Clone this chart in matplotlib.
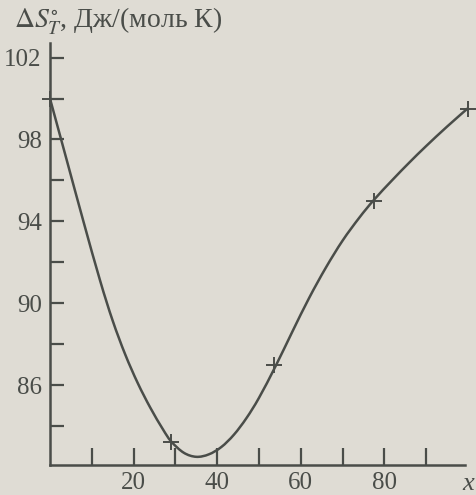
import matplotlib
matplotlib.use('Agg')
import matplotlib.pyplot as plt
from matplotlib.path import Path
from matplotlib.patches import PathPatch

plt.rcParams['font.family'] = ['Liberation Serif', 'DejaVu Serif']
plt.rcParams['mathtext.fontset'] = 'stix'

# measured points (markers)
pts_x = [0, 29, 53.5, 77.5, 100]
pts_y = [100.0, 83.2, 87.0, 95.0, 99.5]

# curve
curve_x = [0, 4, 8, 12, 15, 18, 21, 24, 27, 29, 32, 35, 38, 41, 44, 47, 50,
           54, 58, 62, 66, 70, 74, 77.5, 82, 86, 90, 95, 100]
curve_y = [100.0, 97.0, 94.0, 91.1, 89.15, 87.5, 86.1, 84.9, 83.85, 83.25,
           82.7, 82.5, 82.62, 82.98, 83.58, 84.39, 85.38, 86.94, 88.62,
           90.26, 91.74, 93.06, 94.18, 95.05, 96.04, 96.88, 97.68, 98.63,
           99.53]

x_major = [20, 40, 60, 80]
x_minor = [10, 30, 50, 70, 90]
y_major = [86, 90, 94, 98, 102]
y_minor = [84, 88, 92, 96, 100]

bg = '#dfdcd4'
ink = '#4a4d49'


def smooth_path(xs, ys):
    # Catmull-Rom through the points, drawn as cubic Bezier segments
    verts = [(xs[0], ys[0])]
    codes = [Path.MOVETO]
    n = len(xs)
    for i in range(n - 1):
        x0, y0 = (xs[i - 1], ys[i - 1]) if i > 0 else (xs[i], ys[i])
        x1, y1 = xs[i], ys[i]
        x2, y2 = xs[i + 1], ys[i + 1]
        x3, y3 = (xs[i + 2], ys[i + 2]) if i + 2 < n else (x2, y2)
        c1 = (x1 + (x2 - x0) / 6, y1 + (y2 - y0) / 6)
        c2 = (x2 - (x3 - x1) / 6, y2 - (y3 - y1) / 6)
        verts += [c1, c2, (x2, y2)]
        codes += [Path.CURVE4] * 3
    return Path(verts, codes)


fig = plt.figure(figsize=(4.76, 4.95), dpi=100, facecolor=bg)
ax = fig.add_axes([0.105, 0.0606, 0.872, 0.852], facecolor=bg)

ax.add_patch(PathPatch(smooth_path(curve_x, curve_y), fill=False,
                       edgecolor=ink, lw=1.8, clip_on=False, zorder=3))
ax.plot(pts_x, pts_y, ls='none', marker='+', ms=11, mew=1.4, color=ink,
        clip_on=False, zorder=4)

ax.set_xlim(0, 99.3)
ax.set_ylim(82.1, 102.7)

for s in ['top', 'right']:
    ax.spines[s].set_visible(False)
for s in ['left', 'bottom']:
    ax.spines[s].set_color(ink)
    ax.spines[s].set_linewidth(1.8)

ax.set_xticks(x_major)
ax.set_xticks(x_minor, minor=True)
ax.set_yticks(y_major)
ax.set_yticks(y_minor, minor=True)
ax.tick_params(which='both', direction='in', color=ink, width=1.6,
               labelcolor=ink, labelsize=18)
ax.tick_params(axis='y', which='both', length=10, pad=6)
ax.tick_params(axis='x', which='both', length=12, pad=5)

fig.text(0.03, 0.957, r'$\Delta S^{\circ}_{T}$, Дж/(моль К)', fontsize=20,
         color=ink, va='center', ha='left')
fig.text(0.995, 0.022, 'x', fontsize=19, style='italic', color=ink,
         ha='right', va='center')

fig.savefig('out.png', dpi=100, facecolor=bg)
